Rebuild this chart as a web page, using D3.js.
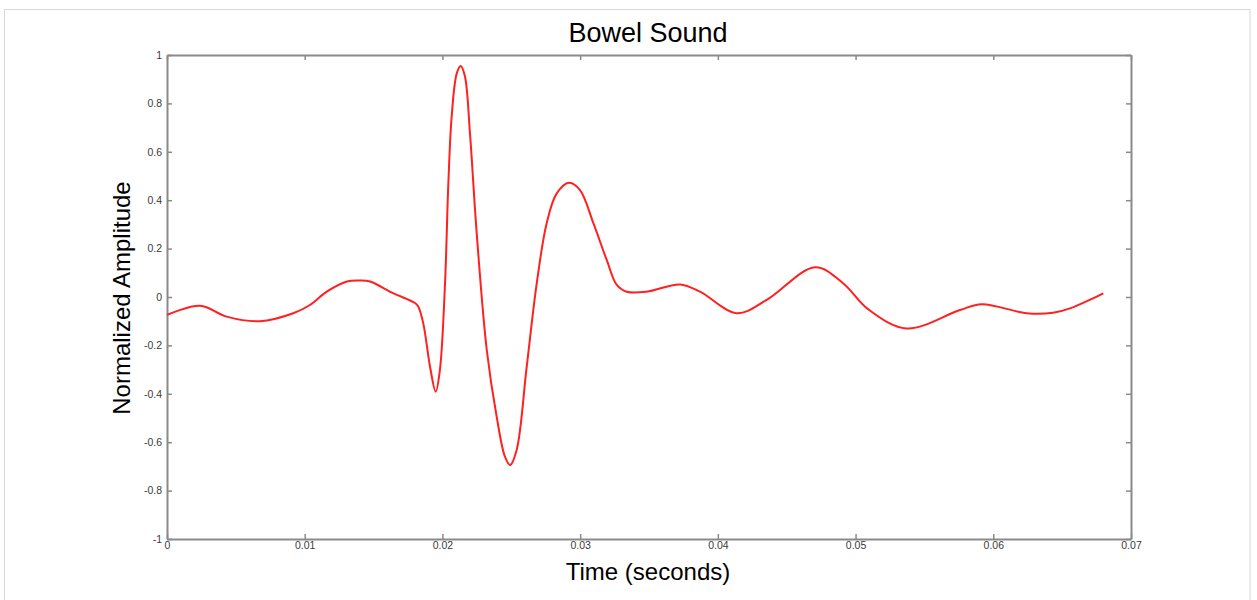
<!DOCTYPE html>
<html>
<head>
<meta charset="utf-8">
<script src="https://cdn.jsdelivr.net/npm/d3@7"></script>
<style>
  body { margin: 0; background: #fff; }
  svg { display: block; font-family: "Liberation Sans", Arial, sans-serif; }
</style>
</head>
<body>
<svg id="chart" width="1257" height="600"></svg>
<script>
// Time in units of 0.001 s
const timeMs = [0, 2.40, 4.33, 6.75, 9.17, 10.38, 11.6, 13.07, 14.0, 14.74, 16.41, 18.01, 18.25, 18.61, 19.10, 19.51, 19.82, 20.19, 20.43, 20.67, 21.04, 21.33, 21.64, 22.00, 22.49, 23.22, 23.94, 24.54, 24.91, 25.39, 26.12, 26.85, 27.57, 28.30, 29.19, 29.99, 30.96, 31.93, 32.66, 33.38, 34.83, 37.25, 38.70, 41.37, 43.55, 47.06, 49.09, 50.90, 53.71, 57.58, 59.16, 62.43, 64.34, 65.57, 67.99];
const amplitude = [-0.074, -0.036, -0.081, -0.10, -0.067, -0.033, 0.022, 0.064, 0.068, 0.064, 0.016, -0.025, -0.04, -0.109, -0.288, -0.391, -0.30, 0.058, 0.47, 0.745, 0.924, 0.955, 0.91, 0.676, 0.263, -0.219, -0.495, -0.66, -0.694, -0.632, -0.288, 0.057, 0.305, 0.428, 0.472, 0.442, 0.305, 0.153, 0.05, 0.022, 0.022, 0.052, 0.022, -0.067, -0.012, 0.123, 0.057, -0.05, -0.13, -0.054, -0.03, -0.067, -0.065, -0.047, 0.015];
const xTicks = [0, 0.01, 0.02, 0.03, 0.04, 0.05, 0.06, 0.07];
const xTickLabels = ["0", "0.01", "0.02", "0.03", "0.04", "0.05", "0.06", "0.07"];
const yTicks = [-1, -0.8, -0.6, -0.4, -0.2, 0, 0.2, 0.4, 0.6, 0.8, 1];
const yTickLabels = ["-1", "-0.8", "-0.6", "-0.4", "-0.2", "0", "0.2", "0.4", "0.6", "0.8", "1"];
const titleText = "Bowel Sound";
const xLabelText = "Time (seconds)";
const yLabelText = "Normalized Amplitude";

const data = timeMs.map((t, i) => ({ t: t / 1000, v: amplitude[i] }));

const svg = d3.select("#chart");
const L = 167, R = 1131, T = 55, B = 539;
const x = d3.scaleLinear().domain([0, 0.07]).range([L, R]);
const y = d3.scaleLinear().domain([-1, 1]).range([B, T]);

// outer frame
svg.append("rect").attr("x", 4.5).attr("y", 9.5).attr("width", 1245.5).attr("height", 600)
  .attr("fill", "none").attr("stroke", "#d8d8d8").attr("stroke-width", 1);

const axisColor = "#8a8a8a";
const labelColor = "#3a3a3a";

// axes (ticks inward)
const gB = svg.append("g").attr("transform", `translate(0,${B})`)
  .call(d3.axisBottom(x).tickValues(xTicks).tickFormat((d, i) => xTickLabels[i]).tickSizeInner(-5).tickSizeOuter(0).tickPadding(5));
const gT = svg.append("g").attr("transform", `translate(0,${T})`)
  .call(d3.axisTop(x).tickValues(xTicks).tickFormat("").tickSizeInner(-5).tickSizeOuter(0));
const gL = svg.append("g").attr("transform", `translate(${L},0)`)
  .call(d3.axisLeft(y).tickValues(yTicks).tickFormat((d, i) => yTickLabels[i]).tickSizeInner(-5).tickSizeOuter(0).tickPadding(5));
const gR = svg.append("g").attr("transform", `translate(${R},0)`)
  .call(d3.axisRight(y).tickValues(yTicks).tickFormat("").tickSizeInner(-5).tickSizeOuter(0));

[gB, gT, gL, gR].forEach(g => {
  g.selectAll("path.domain").attr("stroke", axisColor).attr("stroke-width", 2);
  g.selectAll(".tick line").attr("stroke", axisColor).attr("stroke-width", 1.5);
  g.selectAll(".tick text").attr("fill", labelColor).attr("font-size", 10.5)
    .attr("font-family", "'Liberation Sans', Arial, sans-serif");
});
gB.selectAll(".tick text").attr("dy", "0.5em");

// line
const line = d3.line().x(d => x(d.t)).y(d => y(d.v)).curve(d3.curveCatmullRom.alpha(0.5));
svg.append("path").datum(data).attr("d", line)
  .attr("fill", "none").attr("stroke", "#ff2020").attr("stroke-width", 2);

// titles
svg.append("text").attr("x", 648).attr("y", 42).attr("text-anchor", "middle")
  .attr("font-size", 27).attr("fill", "#000").text(titleText);
svg.append("text").attr("x", 648).attr("y", 580).attr("text-anchor", "middle")
  .attr("font-size", 24).attr("fill", "#000").text(xLabelText);
svg.append("text").attr("transform", `translate(130,298) rotate(-90)`).attr("text-anchor", "middle")
  .attr("font-size", 24).attr("fill", "#000").text(yLabelText);
</script>
</body>
</html>
